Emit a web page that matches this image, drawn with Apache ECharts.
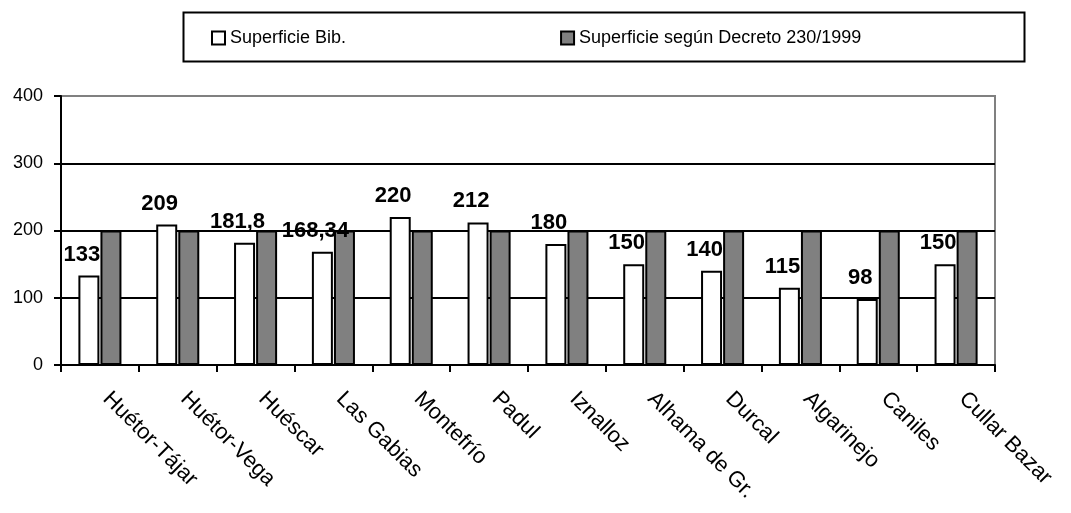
<!DOCTYPE html>
<html>
<head>
<meta charset="utf-8">
<title>Superficie bibliotecas</title>
<script src="https://cdn.jsdelivr.net/npm/echarts@6/dist/echarts.min.js"></script>
<style>
    html, body { margin: 0; padding: 0; background: #fff; }
    #chart { width: 1071px; height: 513px; }
</style>
</head>
<body>
<div id="chart"></div>
<script>
// datos
var municipios = ['Huétor-Tájar', 'Huétor-Vega', 'Huéscar', 'Las Gabias', 'Montefrío', 'Padul',
    'Iznalloz', 'Alhama de Gr.', 'Durcal', 'Algarinejo', 'Caniles', 'Cullar Bazar'];
var superficieBib = [133, 209, 181.8, 168.34, 220, 212, 180, 150, 140, 115, 98, 150];
var superficieDecreto = [200, 200, 200, 200, 200, 200, 200, 200, 200, 200, 200, 200];
var yTicks = [0, 100, 200, 300, 400];

var fontFam = '"Liberation Sans", Arial, sans-serif';
var gris = '#808080';

var chart = echarts.init(document.getElementById('chart'), null, { renderer: 'canvas' });

var option = {
    backgroundColor: '#fff',
    animation: false,
    textStyle: { fontFamily: fontFam, color: '#000' },
    graphic: [{
        type: 'rect',
        left: 181,
        top: 10,
        shape: { width: 841, height: 49 },
        style: { fill: 'none', stroke: '#000', lineWidth: 2 }
    }],
    legend: {
        left: 206,
        top: 24,
        itemGap: 214,
        itemWidth: 13,
        itemHeight: 13,
        icon: 'rect',
        textStyle: { fontFamily: fontFam, fontSize: 18, color: '#000' },
        data: ['Superficie Bib.', 'Superficie según Decreto 230/1999']
    },
    grid: {
        left: 61,
        right: 76,
        top: 96,
        bottom: 148,
        show: true,
        borderColor: gris,
        borderWidth: 2,
        backgroundColor: 'transparent'
    },
    xAxis: {
        type: 'category',
        data: municipios,
        axisLine: { lineStyle: { color: '#000', width: 2 } },
        axisTick: { show: true, length: 7, lineStyle: { color: '#000', width: 2 } },
        axisLabel: {
            interval: 0,
            rotate: -45,
            margin: 24,
            padding: [0, 0, 0, 9],
            fontSize: 22,
            fontFamily: fontFam,
            color: '#000'
        }
    },
    yAxis: {
        type: 'value',
        min: yTicks[0],
        max: yTicks[yTicks.length - 1],
        interval: 100,
        axisLine: { show: true, lineStyle: { color: '#000', width: 2 } },
        axisTick: { show: true, length: 7, lineStyle: { color: '#000', width: 2 } },
        axisLabel: { margin: 18, fontSize: 18, fontFamily: fontFam, color: '#000' },
        splitLine: { show: true, lineStyle: { color: ['#000', '#000', '#000', '#000', gris], width: 2 } }
    },
    series: [{
        name: 'Superficie Bib.',
        type: 'bar',
        data: superficieBib,
        barWidth: 21,
        barGap: '5%',
        itemStyle: { color: '#fff', borderColor: '#000', borderWidth: 2 },
        label: {
            show: true,
            position: 'top',
            distance: 10,
            offset: [-7, 0],
            fontSize: 22,
            fontWeight: 'bold',
            fontFamily: fontFam,
            color: '#000',
            formatter: function(p) {
                return String(p.value).replace('.', ',');
            }
        }
    }, {
        name: 'Superficie según Decreto 230/1999',
        type: 'bar',
        data: superficieDecreto,
        barWidth: 21,
        itemStyle: { color: gris, borderColor: '#000', borderWidth: 2 }
    }]
};

chart.setOption(option);
</script>
</body>
</html>
